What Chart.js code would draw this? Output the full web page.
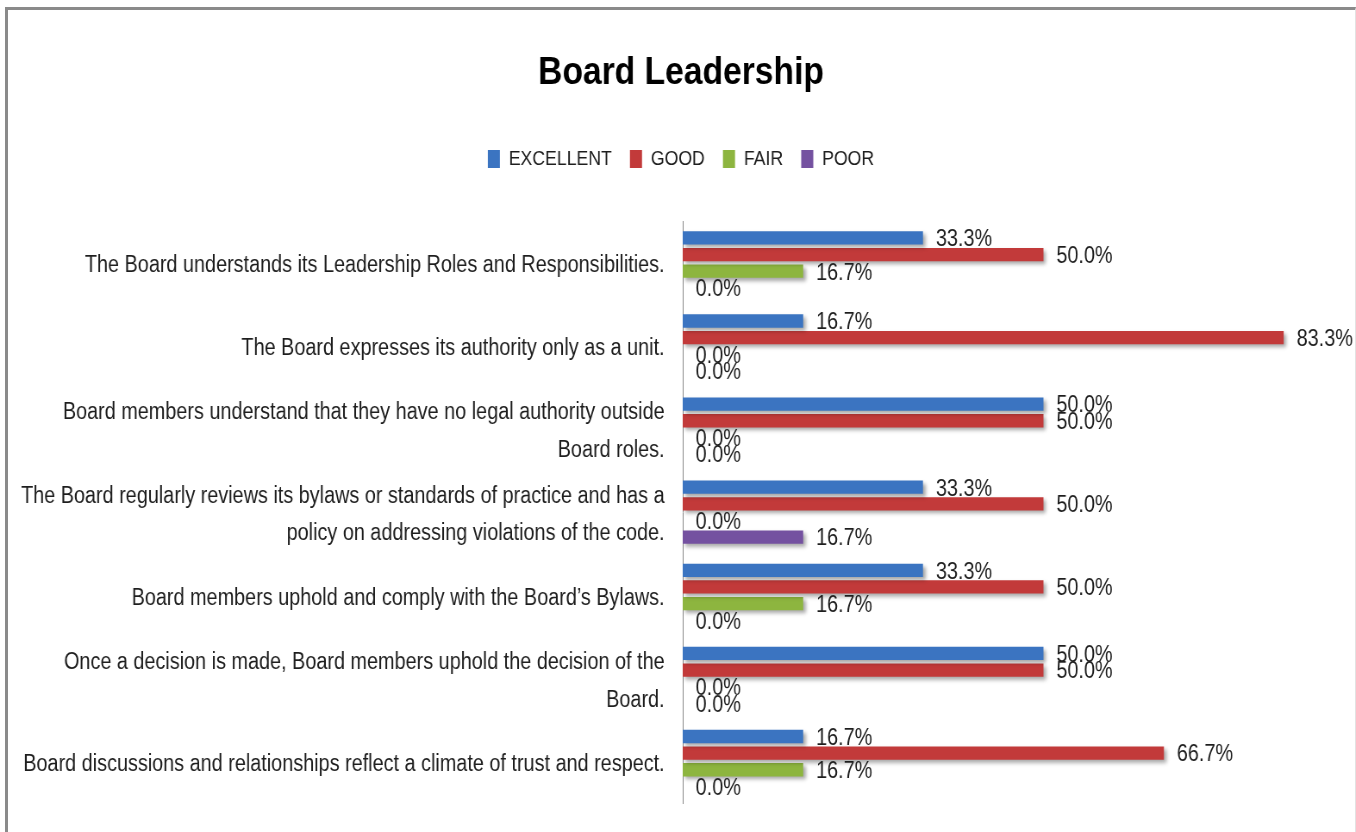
<!DOCTYPE html>
<html>
<head>
<meta charset="utf-8">
<script src="https://cdn.jsdelivr.net/npm/chart.js@4/dist/chart.umd.min.js"></script>
<style>
  body { margin: 0; background: #fff; }
  #wrap { position: relative; width: 1356px; height: 832px; overflow: hidden; }
  #frame {
    position: absolute; left: 5px; top: 7px; width: 1347px; height: 840px;
    border-top: 3px solid #8a8a8a; border-left: 3px solid #8a8a8a; border-right: 1px solid #e2e2e2;
  }
  /* the reference text is tall and narrow, so the whole drawing is squeezed sideways */
  #boardChart { position: absolute; left: 0; top: 0; transform: scaleX(0.862); transform-origin: 0 0; }
</style>
</head>
<body>
<div id="wrap">
  <div id="frame"></div>
  <canvas id="boardChart" width="1580" height="832"></canvas>
</div>
<script>
const FONT = "'Liberation Sans', Arial, sans-serif";

const questions = [
  'The Board understands its Leadership Roles and Responsibilities.',
  'The Board expresses its authority only as a unit.',
  ['Board members understand that they have no legal authority outside', 'Board roles.'],
  ['The Board regularly reviews its bylaws or standards of practice and has a', 'policy on addressing violations of the code.'],
  'Board members uphold and comply with the Board\u2019s Bylaws.',
  ['Once a decision is made, Board members uphold the decision of the', 'Board.'],
  'Board discussions and relationships reflect a climate of trust and respect.'
];

const excellent = [33.3, 16.7, 50.0, 33.3, 33.3, 50.0, 16.7];
const good      = [50.0, 83.3, 50.0, 50.0, 50.0, 50.0, 66.7];
const fair      = [16.7, 0.0, 0.0, 0.0, 16.7, 0.0, 16.7];
const poor      = [0.0, 0.0, 0.0, 16.7, 0.0, 0.0, 0.0];

// shadow under bars + percent labels at bar ends
const barExtras = {
  id: 'barExtras',
  beforeDatasetsDraw(chart) {
    const ctx = chart.ctx;
    ctx.save();
    ctx.shadowColor = 'rgba(0,0,0,0.35)';
    ctx.shadowBlur = 4;
    ctx.shadowOffsetX = 3;
    ctx.shadowOffsetY = 3;
  },
  afterDatasetsDraw(chart) {
    const ctx = chart.ctx;
    ctx.restore();
    ctx.save();
    ctx.font = '23px ' + FONT;
    ctx.fillStyle = '#1e1e1e';
    ctx.textAlign = 'left';
    ctx.textBaseline = 'middle';
    chart.data.datasets.forEach((ds, i) => {
      chart.getDatasetMeta(i).data.forEach((bar, j) => {
        ctx.fillText(ds.data[j].toFixed(1) + '%', bar.x + 15, bar.y + 2);
      });
    });
    ctx.restore();
  }
};

new Chart(document.getElementById('boardChart'), {
  type: 'bar',
  data: {
    labels: questions,
    datasets: [
      { label: 'EXCELLENT', data: excellent, backgroundColor: '#3b74c1' },
      { label: 'GOOD', data: good, backgroundColor: '#c23a3a' },
      { label: 'FAIR', data: fair, backgroundColor: '#8db53f' },
      { label: 'POOR', data: poor, backgroundColor: '#7451a0' }
    ]
  },
  options: {
    indexAxis: 'y',
    responsive: false,
    animation: false,
    categoryPercentage: 0.8,
    barPercentage: 0.8,
    layout: { padding: { top: 0, left: 0, right: 0, bottom: 29 } },
    scales: {
      x: {
        position: 'top',
        min: 0,
        max: 94.15,
        grid: { display: false },
        border: { display: false },
        ticks: { display: false },
        afterFit: s => { s.height = 42; }
      },
      y: {
        grid: { display: false, drawTicks: false },
        border: { display: true, color: '#8c8c8c', width: 1 },
        ticks: {
          color: '#1e1e1e',
          padding: 21,
          labelOffset: 3,
          font: { family: FONT, size: 23, lineHeight: 1.65 }
        },
        afterFit: s => {
          s.width = 792;
          s.paddingTop = 0;
          s.paddingBottom = 0;
        }
      }
    },
    plugins: {
      title: {
        display: true,
        text: 'Board Leadership',
        color: '#000',
        font: { family: FONT, size: 39, weight: 'bold', lineHeight: 1.2 },
        padding: { top: 50, bottom: 31 }
      },
      legend: {
        labels: {
          color: '#1e1e1e',
          boxWidth: 14,
          boxHeight: 18,
          padding: 21,
          font: { family: FONT, size: 20.5 }
        }
      },
      tooltip: { enabled: false }
    }
  },
  plugins: [barExtras]
});
</script>
</body>
</html>
